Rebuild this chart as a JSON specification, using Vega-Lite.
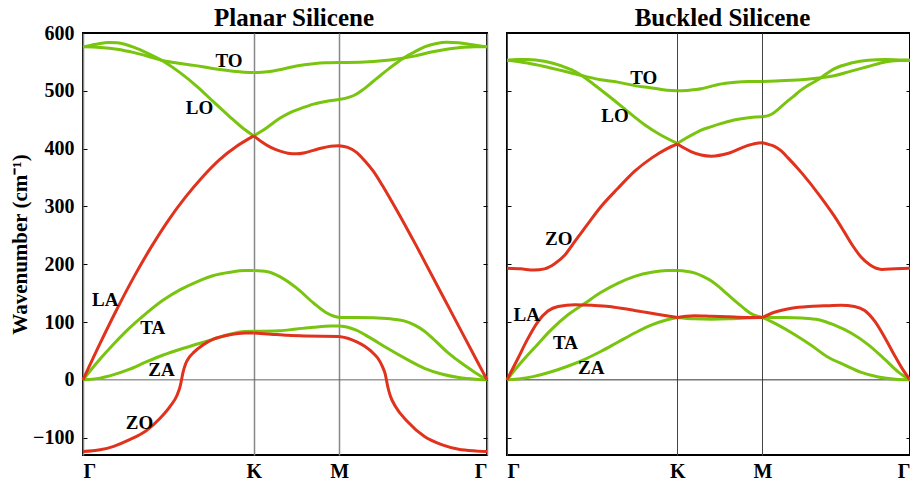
{
"$schema": "https://vega.github.io/schema/vega-lite/v6.json",
"background": "white",
"padding": {"left": 8, "top": 4, "right": 0, "bottom": 0},
"spacing": 6,
"config": {
  "view": {"stroke": "black", "strokeWidth": 2},
  "font": "Liberation Serif",
  "title": {"font": "Liberation Serif", "fontSize": 25, "fontWeight": "bold", "color": "black", "baseline": "alphabetic"},
  "axis": {"labelFont": "Liberation Serif", "labelFontWeight": "bold", "labelColor": "black", "titleFont": "Liberation Serif", "titleFontWeight": "bold", "titleColor": "black"}
},
"datasets": {
"planar": [
{"b":"TO","s":"GK","x":0,"v":576},{"b":"TO","s":"GK","x":0.1,"v":575},{"b":"TO","s":"GK","x":0.2,"v":572},{"b":"TO","s":"GK","x":0.3,"v":566},{"b":"TO","s":"GK","x":0.4,"v":558},{"b":"TO","s":"GK","x":0.47,"v":552},{"b":"TO","s":"GK","x":0.55,"v":548},{"b":"TO","s":"GK","x":0.65,"v":544},{"b":"TO","s":"GK","x":0.75,"v":539},{"b":"TO","s":"GK","x":0.85,"v":535},{"b":"TO","s":"GK","x":0.93,"v":532.5},{"b":"TO","s":"GK","x":1,"v":531.5},
{"b":"TO","s":"KM","x":1,"v":531.5},{"b":"TO","s":"KM","x":1.08,"v":533},{"b":"TO","s":"KM","x":1.16,"v":537},{"b":"TO","s":"KM","x":1.25,"v":543},{"b":"TO","s":"KM","x":1.35,"v":547},{"b":"TO","s":"KM","x":1.42,"v":548.5},{"b":"TO","s":"KM","x":1.5,"v":549},
{"b":"TO","s":"MG","x":1.5,"v":549},{"b":"TO","s":"MG","x":1.65,"v":550},{"b":"TO","s":"MG","x":1.75,"v":552},{"b":"TO","s":"MG","x":1.84,"v":555},{"b":"TO","s":"MG","x":1.94,"v":560},{"b":"TO","s":"MG","x":2.04,"v":567},{"b":"TO","s":"MG","x":2.13,"v":572},{"b":"TO","s":"MG","x":2.23,"v":575.5},{"b":"TO","s":"MG","x":2.3,"v":576},{"b":"TO","s":"MG","x":2.366,"v":576},
{"b":"LO","s":"GK","x":0,"v":576},{"b":"LO","s":"GK","x":0.05,"v":579},{"b":"LO","s":"GK","x":0.1,"v":582},{"b":"LO","s":"GK","x":0.15,"v":583.5},{"b":"LO","s":"GK","x":0.2,"v":583},{"b":"LO","s":"GK","x":0.25,"v":580},{"b":"LO","s":"GK","x":0.3,"v":575},{"b":"LO","s":"GK","x":0.37,"v":566},{"b":"LO","s":"GK","x":0.47,"v":551},{"b":"LO","s":"GK","x":0.57,"v":531},{"b":"LO","s":"GK","x":0.67,"v":507},{"b":"LO","s":"GK","x":0.76,"v":482},{"b":"LO","s":"GK","x":0.86,"v":455},{"b":"LO","s":"GK","x":0.93,"v":437},{"b":"LO","s":"GK","x":1,"v":422},
{"b":"LO","s":"KM","x":1,"v":422},{"b":"LO","s":"KM","x":1.04,"v":429},{"b":"LO","s":"KM","x":1.08,"v":437},{"b":"LO","s":"KM","x":1.15,"v":452},{"b":"LO","s":"KM","x":1.21,"v":462},{"b":"LO","s":"KM","x":1.28,"v":470},{"b":"LO","s":"KM","x":1.35,"v":477},{"b":"LO","s":"KM","x":1.43,"v":482},{"b":"LO","s":"KM","x":1.5,"v":485},
{"b":"LO","s":"MG","x":1.5,"v":485},{"b":"LO","s":"MG","x":1.56,"v":489},{"b":"LO","s":"MG","x":1.6,"v":494},{"b":"LO","s":"MG","x":1.64,"v":502},{"b":"LO","s":"MG","x":1.69,"v":514},{"b":"LO","s":"MG","x":1.74,"v":526},{"b":"LO","s":"MG","x":1.79,"v":538},{"b":"LO","s":"MG","x":1.84,"v":549},{"b":"LO","s":"MG","x":1.89,"v":559},{"b":"LO","s":"MG","x":1.94,"v":567},{"b":"LO","s":"MG","x":2,"v":576},{"b":"LO","s":"MG","x":2.07,"v":582},{"b":"LO","s":"MG","x":2.13,"v":584},{"b":"LO","s":"MG","x":2.2,"v":583},{"b":"LO","s":"MG","x":2.28,"v":579.5},{"b":"LO","s":"MG","x":2.366,"v":576},
{"b":"TA","s":"GK","x":0,"v":0},{"b":"TA","s":"GK","x":0.1,"v":36},{"b":"TA","s":"GK","x":0.18,"v":62},{"b":"TA","s":"GK","x":0.27,"v":89},{"b":"TA","s":"GK","x":0.37,"v":115},{"b":"TA","s":"GK","x":0.47,"v":138},{"b":"TA","s":"GK","x":0.57,"v":156},{"b":"TA","s":"GK","x":0.67,"v":170},{"b":"TA","s":"GK","x":0.76,"v":180},{"b":"TA","s":"GK","x":0.86,"v":186},{"b":"TA","s":"GK","x":0.95,"v":189},{"b":"TA","s":"GK","x":1,"v":189},
{"b":"TA","s":"KM","x":1,"v":189},{"b":"TA","s":"KM","x":1.08,"v":187},{"b":"TA","s":"KM","x":1.15,"v":179},{"b":"TA","s":"KM","x":1.25,"v":159},{"b":"TA","s":"KM","x":1.35,"v":133},{"b":"TA","s":"KM","x":1.42,"v":117},{"b":"TA","s":"KM","x":1.47,"v":110},{"b":"TA","s":"KM","x":1.5,"v":108},
{"b":"TA","s":"MG","x":1.5,"v":108},{"b":"TA","s":"MG","x":1.6,"v":108},{"b":"TA","s":"MG","x":1.7,"v":107.5},{"b":"TA","s":"MG","x":1.8,"v":105.5},{"b":"TA","s":"MG","x":1.88,"v":102},{"b":"TA","s":"MG","x":1.94,"v":95},{"b":"TA","s":"MG","x":2,"v":84},{"b":"TA","s":"MG","x":2.04,"v":74},{"b":"TA","s":"MG","x":2.13,"v":49},{"b":"TA","s":"MG","x":2.23,"v":26},{"b":"TA","s":"MG","x":2.3,"v":12},{"b":"TA","s":"MG","x":2.366,"v":0},
{"b":"ZA","s":"GK","x":0,"v":0},{"b":"ZA","s":"GK","x":0.1,"v":3},{"b":"ZA","s":"GK","x":0.18,"v":9},{"b":"ZA","s":"GK","x":0.27,"v":18},{"b":"ZA","s":"GK","x":0.37,"v":31},{"b":"ZA","s":"GK","x":0.47,"v":43},{"b":"ZA","s":"GK","x":0.57,"v":53},{"b":"ZA","s":"GK","x":0.67,"v":62},{"b":"ZA","s":"GK","x":0.76,"v":70},{"b":"ZA","s":"GK","x":0.86,"v":79},{"b":"ZA","s":"GK","x":0.95,"v":83.5},{"b":"ZA","s":"GK","x":1,"v":84},
{"b":"ZA","s":"KM","x":1,"v":84},{"b":"ZA","s":"KM","x":1.15,"v":85},{"b":"ZA","s":"KM","x":1.25,"v":88},{"b":"ZA","s":"KM","x":1.35,"v":91},{"b":"ZA","s":"KM","x":1.45,"v":93},{"b":"ZA","s":"KM","x":1.5,"v":93},
{"b":"ZA","s":"MG","x":1.5,"v":93},{"b":"ZA","s":"MG","x":1.55,"v":91},{"b":"ZA","s":"MG","x":1.6,"v":86},{"b":"ZA","s":"MG","x":1.68,"v":73},{"b":"ZA","s":"MG","x":1.78,"v":55},{"b":"ZA","s":"MG","x":1.9,"v":35},{"b":"ZA","s":"MG","x":2,"v":20},{"b":"ZA","s":"MG","x":2.1,"v":10},{"b":"ZA","s":"MG","x":2.2,"v":4},{"b":"ZA","s":"MG","x":2.3,"v":1},{"b":"ZA","s":"MG","x":2.366,"v":0},
{"b":"LA","s":"GK","x":0,"v":0},{"b":"LA","s":"GK","x":0.1,"v":63},{"b":"LA","s":"GK","x":0.2,"v":123},{"b":"LA","s":"GK","x":0.3,"v":179},{"b":"LA","s":"GK","x":0.4,"v":230},{"b":"LA","s":"GK","x":0.5,"v":276},{"b":"LA","s":"GK","x":0.6,"v":316},{"b":"LA","s":"GK","x":0.7,"v":351},{"b":"LA","s":"GK","x":0.8,"v":381},{"b":"LA","s":"GK","x":0.9,"v":404},{"b":"LA","s":"GK","x":1,"v":422},
{"b":"LA","s":"KM","x":1,"v":422},{"b":"LA","s":"KM","x":1.05,"v":411},{"b":"LA","s":"KM","x":1.1,"v":402},{"b":"LA","s":"KM","x":1.15,"v":396},{"b":"LA","s":"KM","x":1.2,"v":392},{"b":"LA","s":"KM","x":1.25,"v":391},{"b":"LA","s":"KM","x":1.3,"v":393},{"b":"LA","s":"KM","x":1.35,"v":397},{"b":"LA","s":"KM","x":1.4,"v":401},{"b":"LA","s":"KM","x":1.45,"v":404},{"b":"LA","s":"KM","x":1.5,"v":405},
{"b":"LA","s":"MG","x":1.5,"v":405},{"b":"LA","s":"MG","x":1.55,"v":402},{"b":"LA","s":"MG","x":1.6,"v":394},{"b":"LA","s":"MG","x":1.65,"v":379},{"b":"LA","s":"MG","x":1.7,"v":361},{"b":"LA","s":"MG","x":1.75,"v":338},{"b":"LA","s":"MG","x":1.8,"v":313},{"b":"LA","s":"MG","x":1.85,"v":287},{"b":"LA","s":"MG","x":1.9,"v":260},{"b":"LA","s":"MG","x":1.95,"v":233},{"b":"LA","s":"MG","x":2,"v":205},{"b":"LA","s":"MG","x":2.1,"v":149},{"b":"LA","s":"MG","x":2.2,"v":93},{"b":"LA","s":"MG","x":2.3,"v":37},{"b":"LA","s":"MG","x":2.366,"v":0},
{"b":"ZO","s":"GK","x":0,"v":-124},{"b":"ZO","s":"GK","x":0.1,"v":-121},{"b":"ZO","s":"GK","x":0.18,"v":-115},{"b":"ZO","s":"GK","x":0.27,"v":-104},{"b":"ZO","s":"GK","x":0.37,"v":-88},{"b":"ZO","s":"GK","x":0.45,"v":-67},{"b":"ZO","s":"GK","x":0.51,"v":-46},{"b":"ZO","s":"GK","x":0.55,"v":-27},{"b":"ZO","s":"GK","x":0.57,"v":-10},{"b":"ZO","s":"GK","x":0.577,"v":0},{"b":"ZO","s":"GK","x":0.585,"v":12},{"b":"ZO","s":"GK","x":0.6,"v":27},{"b":"ZO","s":"GK","x":0.625,"v":40},{"b":"ZO","s":"GK","x":0.65,"v":48},{"b":"ZO","s":"GK","x":0.7,"v":60},{"b":"ZO","s":"GK","x":0.76,"v":70},{"b":"ZO","s":"GK","x":0.86,"v":78},{"b":"ZO","s":"GK","x":0.95,"v":81},{"b":"ZO","s":"GK","x":1,"v":81},
{"b":"ZO","s":"KM","x":1,"v":81},{"b":"ZO","s":"KM","x":1.1,"v":79},{"b":"ZO","s":"KM","x":1.2,"v":77},{"b":"ZO","s":"KM","x":1.3,"v":76},{"b":"ZO","s":"KM","x":1.4,"v":75.5},{"b":"ZO","s":"KM","x":1.5,"v":75},
{"b":"ZO","s":"MG","x":1.5,"v":75},{"b":"ZO","s":"MG","x":1.55,"v":72},{"b":"ZO","s":"MG","x":1.6,"v":66},{"b":"ZO","s":"MG","x":1.65,"v":58},{"b":"ZO","s":"MG","x":1.7,"v":46},{"b":"ZO","s":"MG","x":1.73,"v":36},{"b":"ZO","s":"MG","x":1.755,"v":22},{"b":"ZO","s":"MG","x":1.77,"v":10},{"b":"ZO","s":"MG","x":1.777,"v":0},{"b":"ZO","s":"MG","x":1.785,"v":-12},{"b":"ZO","s":"MG","x":1.8,"v":-28},{"b":"ZO","s":"MG","x":1.83,"v":-46},{"b":"ZO","s":"MG","x":1.9,"v":-72},{"b":"ZO","s":"MG","x":2,"v":-98},{"b":"ZO","s":"MG","x":2.1,"v":-112},{"b":"ZO","s":"MG","x":2.2,"v":-120},{"b":"ZO","s":"MG","x":2.3,"v":-123},{"b":"ZO","s":"MG","x":2.366,"v":-124}
],
"buckled": [
{"b":"TO","s":"GK","x":0,"v":553},{"b":"TO","s":"GK","x":0.12,"v":548},{"b":"TO","s":"GK","x":0.22,"v":542},{"b":"TO","s":"GK","x":0.32,"v":535},{"b":"TO","s":"GK","x":0.46,"v":525},{"b":"TO","s":"GK","x":0.55,"v":519},{"b":"TO","s":"GK","x":0.65,"v":515},{"b":"TO","s":"GK","x":0.75,"v":509},{"b":"TO","s":"GK","x":0.85,"v":505},{"b":"TO","s":"GK","x":0.94,"v":501},{"b":"TO","s":"GK","x":1,"v":500},
{"b":"TO","s":"KM","x":1,"v":500},{"b":"TO","s":"KM","x":1.07,"v":501},{"b":"TO","s":"KM","x":1.14,"v":503.5},{"b":"TO","s":"KM","x":1.2,"v":508},{"b":"TO","s":"KM","x":1.24,"v":511},{"b":"TO","s":"KM","x":1.34,"v":515},{"b":"TO","s":"KM","x":1.42,"v":516},{"b":"TO","s":"KM","x":1.5,"v":516},
{"b":"TO","s":"MG","x":1.5,"v":516},{"b":"TO","s":"MG","x":1.63,"v":518},{"b":"TO","s":"MG","x":1.73,"v":519},{"b":"TO","s":"MG","x":1.83,"v":522},{"b":"TO","s":"MG","x":1.92,"v":526},{"b":"TO","s":"MG","x":2.02,"v":534},{"b":"TO","s":"MG","x":2.12,"v":542},{"b":"TO","s":"MG","x":2.22,"v":550},{"b":"TO","s":"MG","x":2.3,"v":552.5},{"b":"TO","s":"MG","x":2.366,"v":553},
{"b":"LO","s":"GK","x":0,"v":553},{"b":"LO","s":"GK","x":0.06,"v":554},{"b":"LO","s":"GK","x":0.12,"v":554},{"b":"LO","s":"GK","x":0.22,"v":551},{"b":"LO","s":"GK","x":0.32,"v":543},{"b":"LO","s":"GK","x":0.42,"v":530},{"b":"LO","s":"GK","x":0.51,"v":511},{"b":"LO","s":"GK","x":0.61,"v":488},{"b":"LO","s":"GK","x":0.71,"v":464},{"b":"LO","s":"GK","x":0.81,"v":441},{"b":"LO","s":"GK","x":0.9,"v":424},{"b":"LO","s":"GK","x":1,"v":409},
{"b":"LO","s":"KM","x":1,"v":409},{"b":"LO","s":"KM","x":1.05,"v":418},{"b":"LO","s":"KM","x":1.1,"v":426},{"b":"LO","s":"KM","x":1.14,"v":432},{"b":"LO","s":"KM","x":1.2,"v":438},{"b":"LO","s":"KM","x":1.24,"v":442},{"b":"LO","s":"KM","x":1.34,"v":450},{"b":"LO","s":"KM","x":1.43,"v":454},{"b":"LO","s":"KM","x":1.5,"v":455},
{"b":"LO","s":"MG","x":1.5,"v":455},{"b":"LO","s":"MG","x":1.55,"v":459},{"b":"LO","s":"MG","x":1.6,"v":470},{"b":"LO","s":"MG","x":1.63,"v":478},{"b":"LO","s":"MG","x":1.68,"v":490},{"b":"LO","s":"MG","x":1.73,"v":502},{"b":"LO","s":"MG","x":1.83,"v":520},{"b":"LO","s":"MG","x":1.92,"v":538},{"b":"LO","s":"MG","x":2.02,"v":548},{"b":"LO","s":"MG","x":2.12,"v":553},{"b":"LO","s":"MG","x":2.22,"v":554},{"b":"LO","s":"MG","x":2.3,"v":553.5},{"b":"LO","s":"MG","x":2.366,"v":553},
{"b":"TA","s":"GK","x":0,"v":0},{"b":"TA","s":"GK","x":0.08,"v":29},{"b":"TA","s":"GK","x":0.16,"v":55},{"b":"TA","s":"GK","x":0.26,"v":87},{"b":"TA","s":"GK","x":0.36,"v":113},{"b":"TA","s":"GK","x":0.46,"v":133},{"b":"TA","s":"GK","x":0.55,"v":151},{"b":"TA","s":"GK","x":0.65,"v":167},{"b":"TA","s":"GK","x":0.75,"v":179},{"b":"TA","s":"GK","x":0.85,"v":186},{"b":"TA","s":"GK","x":0.94,"v":189},{"b":"TA","s":"GK","x":1,"v":189},
{"b":"TA","s":"KM","x":1,"v":189},{"b":"TA","s":"KM","x":1.05,"v":188},{"b":"TA","s":"KM","x":1.1,"v":185},{"b":"TA","s":"KM","x":1.15,"v":179},{"b":"TA","s":"KM","x":1.2,"v":171},{"b":"TA","s":"KM","x":1.24,"v":162},{"b":"TA","s":"KM","x":1.29,"v":149},{"b":"TA","s":"KM","x":1.34,"v":136},{"b":"TA","s":"KM","x":1.39,"v":124},{"b":"TA","s":"KM","x":1.43,"v":115},{"b":"TA","s":"KM","x":1.47,"v":110},{"b":"TA","s":"KM","x":1.5,"v":108},
{"b":"TA","s":"MG","x":1.5,"v":108},{"b":"TA","s":"MG","x":1.63,"v":108},{"b":"TA","s":"MG","x":1.73,"v":107},{"b":"TA","s":"MG","x":1.83,"v":104},{"b":"TA","s":"MG","x":1.92,"v":95},{"b":"TA","s":"MG","x":2.02,"v":81},{"b":"TA","s":"MG","x":2.12,"v":61},{"b":"TA","s":"MG","x":2.22,"v":35},{"b":"TA","s":"MG","x":2.3,"v":13},{"b":"TA","s":"MG","x":2.366,"v":0},
{"b":"ZA","s":"GK","x":0,"v":0},{"b":"ZA","s":"GK","x":0.08,"v":2},{"b":"ZA","s":"GK","x":0.16,"v":6},{"b":"ZA","s":"GK","x":0.26,"v":14},{"b":"ZA","s":"GK","x":0.36,"v":24},{"b":"ZA","s":"GK","x":0.46,"v":36},{"b":"ZA","s":"GK","x":0.55,"v":49},{"b":"ZA","s":"GK","x":0.65,"v":65},{"b":"ZA","s":"GK","x":0.75,"v":81},{"b":"ZA","s":"GK","x":0.85,"v":95},{"b":"ZA","s":"GK","x":0.94,"v":104},{"b":"ZA","s":"GK","x":1,"v":108},
{"b":"ZA","s":"KM","x":1,"v":108},{"b":"ZA","s":"KM","x":1.1,"v":105.5},{"b":"ZA","s":"KM","x":1.2,"v":105},{"b":"ZA","s":"KM","x":1.3,"v":105.5},{"b":"ZA","s":"KM","x":1.4,"v":107},{"b":"ZA","s":"KM","x":1.5,"v":108},
{"b":"ZA","s":"MG","x":1.5,"v":108},{"b":"ZA","s":"MG","x":1.59,"v":95},{"b":"ZA","s":"MG","x":1.69,"v":78},{"b":"ZA","s":"MG","x":1.79,"v":59},{"b":"ZA","s":"MG","x":1.88,"v":40},{"b":"ZA","s":"MG","x":1.98,"v":26},{"b":"ZA","s":"MG","x":2.08,"v":13},{"b":"ZA","s":"MG","x":2.18,"v":5},{"b":"ZA","s":"MG","x":2.28,"v":1},{"b":"ZA","s":"MG","x":2.366,"v":0},
{"b":"ZO","s":"GK","x":0,"v":193},{"b":"ZO","s":"GK","x":0.08,"v":192},{"b":"ZO","s":"GK","x":0.16,"v":190},{"b":"ZO","s":"GK","x":0.22,"v":192},{"b":"ZO","s":"GK","x":0.28,"v":201},{"b":"ZO","s":"GK","x":0.34,"v":216},{"b":"ZO","s":"GK","x":0.39,"v":236},{"b":"ZO","s":"GK","x":0.42,"v":248},{"b":"ZO","s":"GK","x":0.48,"v":272},{"b":"ZO","s":"GK","x":0.55,"v":299},{"b":"ZO","s":"GK","x":0.65,"v":331},{"b":"ZO","s":"GK","x":0.75,"v":361},{"b":"ZO","s":"GK","x":0.85,"v":384},{"b":"ZO","s":"GK","x":0.94,"v":400},{"b":"ZO","s":"GK","x":1,"v":408},
{"b":"ZO","s":"KM","x":1,"v":408},{"b":"ZO","s":"KM","x":1.04,"v":401},{"b":"ZO","s":"KM","x":1.08,"v":395},{"b":"ZO","s":"KM","x":1.14,"v":389},{"b":"ZO","s":"KM","x":1.2,"v":387},{"b":"ZO","s":"KM","x":1.3,"v":392},{"b":"ZO","s":"KM","x":1.4,"v":404},{"b":"ZO","s":"KM","x":1.46,"v":409},{"b":"ZO","s":"KM","x":1.5,"v":410},
{"b":"ZO","s":"MG","x":1.5,"v":410},{"b":"ZO","s":"MG","x":1.54,"v":407},{"b":"ZO","s":"MG","x":1.57,"v":404},{"b":"ZO","s":"MG","x":1.61,"v":396},{"b":"ZO","s":"MG","x":1.65,"v":384},{"b":"ZO","s":"MG","x":1.73,"v":358},{"b":"ZO","s":"MG","x":1.83,"v":321},{"b":"ZO","s":"MG","x":1.92,"v":284},{"b":"ZO","s":"MG","x":1.98,"v":256},{"b":"ZO","s":"MG","x":2.03,"v":232},{"b":"ZO","s":"MG","x":2.08,"v":212},{"b":"ZO","s":"MG","x":2.13,"v":199},{"b":"ZO","s":"MG","x":2.2,"v":191},{"b":"ZO","s":"MG","x":2.28,"v":192},{"b":"ZO","s":"MG","x":2.366,"v":193},
{"b":"LA","s":"GK","x":0,"v":0},{"b":"LA","s":"GK","x":0.064,"v":37},{"b":"LA","s":"GK","x":0.12,"v":70},{"b":"LA","s":"GK","x":0.18,"v":100},{"b":"LA","s":"GK","x":0.24,"v":119},{"b":"LA","s":"GK","x":0.3,"v":127},{"b":"LA","s":"GK","x":0.4,"v":130},{"b":"LA","s":"GK","x":0.5,"v":129},{"b":"LA","s":"GK","x":0.6,"v":127},{"b":"LA","s":"GK","x":0.69,"v":123},{"b":"LA","s":"GK","x":0.79,"v":118},{"b":"LA","s":"GK","x":0.89,"v":113},{"b":"LA","s":"GK","x":1,"v":108},
{"b":"LA","s":"KM","x":1,"v":108},{"b":"LA","s":"KM","x":1.05,"v":110},{"b":"LA","s":"KM","x":1.1,"v":111},{"b":"LA","s":"KM","x":1.2,"v":110},{"b":"LA","s":"KM","x":1.3,"v":109},{"b":"LA","s":"KM","x":1.4,"v":108},{"b":"LA","s":"KM","x":1.5,"v":108},
{"b":"LA","s":"MG","x":1.5,"v":108},{"b":"LA","s":"MG","x":1.57,"v":117},{"b":"LA","s":"MG","x":1.67,"v":124},{"b":"LA","s":"MG","x":1.77,"v":127},{"b":"LA","s":"MG","x":1.86,"v":128},{"b":"LA","s":"MG","x":1.96,"v":129},{"b":"LA","s":"MG","x":2.04,"v":127},{"b":"LA","s":"MG","x":2.1,"v":120},{"b":"LA","s":"MG","x":2.16,"v":101},{"b":"LA","s":"MG","x":2.22,"v":72},{"b":"LA","s":"MG","x":2.28,"v":40},{"b":"LA","s":"MG","x":2.33,"v":15},{"b":"LA","s":"MG","x":2.366,"v":0}
],
"planarLabels": [
{"t":"TO","x":0.855,"v":551},{"t":"LO","x":0.682,"v":470},{"t":"LA","x":0.13,"v":138},{"t":"TA","x":0.408,"v":89.5},{"t":"ZA","x":0.46,"v":17.3},{"t":"ZO","x":0.331,"v":-75}
],
"buckledLabels": [
{"t":"TO","x":0.803,"v":522},{"t":"LO","x":0.634,"v":455.7},{"t":"ZO","x":0.304,"v":244},{"t":"LA","x":0.116,"v":112.5},{"t":"TA","x":0.343,"v":63.5},{"t":"ZA","x":0.495,"v":20.2}
]
},
"hconcat": [
{
 "width": 404, "height": 422,
 "title": {"text": "Planar Silicene", "dx": 9, "offset": -8},
 "layer": [
  {
   "data": {"values": [{"v": 0}]},
   "mark": {"type": "rule", "color": "#666666", "strokeWidth": 1},
   "encoding": {"y": {"field": "v", "type": "quantitative", "scale": {"domain": [-130, 600], "nice": false}, "axis": {"orient": "right", "values": [-100,0,100,200,300,400,500,600], "labels": false, "tickSize": -4, "tickColor": "black", "domain": false, "grid": false, "title": null}}}
  },
  {
   "data": {"name": "planar"},
   "transform": [{"filter": {"field": "b", "oneOf": ["TO","LO","TA","ZA"]}}],
   "mark": {"type": "line", "interpolate": "monotone", "strokeWidth": 3, "color": "#78c40f"},
   "encoding": {
    "x": {"field": "x", "type": "quantitative", "scale": {"domain": [0, 2.366], "nice": false, "zero": false}, "axis": {"values": [0,1,1.5,2.366], "labelExpr": "datum.value < 0.5 ? 'Γ' : datum.value < 1.2 ? 'K' : datum.value < 2 ? 'M' : 'Γ'", "labelFontSize": 20, "labelFlush": true, "labelPadding": 6, "ticks": false, "domain": false, "grid": true, "gridColor": "#888888", "gridWidth": 1.5, "title": null}},
    "y": {"field": "v", "type": "quantitative", "scale": {"domain": [-130, 600], "nice": false}, "axis": {"orient": "left", "values": [-100,0,100,200,300,400,500,600], "tickSize": -4, "tickColor": "black", "labelFontSize": 20, "labelPadding": 13, "domain": false, "grid": false, "title": "Wavenumber (cm⁻¹)", "titleFontSize": 21, "titlePadding": 2}},
    "detail": [{"field": "b"}, {"field": "s"}]
   }
  },
  {
   "data": {"name": "planar"},
   "transform": [{"filter": {"field": "b", "oneOf": ["LA","ZO"]}}],
   "mark": {"type": "line", "interpolate": "monotone", "strokeWidth": 3, "color": "#e0321c"},
   "encoding": {
    "x": {"field": "x", "type": "quantitative", "scale": {"domain": [0, 2.366], "nice": false, "zero": false}},
    "y": {"field": "v", "type": "quantitative", "scale": {"domain": [-130, 600], "nice": false}, "axis": null},
    "detail": [{"field": "b"}, {"field": "s"}]
   }
  },
  {
   "data": {"name": "planarLabels"},
   "mark": {"type": "text", "font": "Liberation Serif", "fontWeight": "bold", "fontSize": 19, "color": "black", "baseline": "middle", "align": "center"},
   "encoding": {
    "x": {"field": "x", "type": "quantitative", "scale": {"domain": [0, 2.366], "nice": false, "zero": false}},
    "y": {"field": "v", "type": "quantitative", "scale": {"domain": [-130, 600], "nice": false}, "axis": null},
    "text": {"field": "t"}
   }
  }
 ],
 "resolve": {"axis": {"y": "independent"}}
},
{
 "width": 403, "height": 422,
 "title": {"text": "Buckled Silicene", "dx": 14, "offset": 2},
 "layer": [
  {
   "data": {"values": [{"v": 0}]},
   "mark": {"type": "rule", "color": "#333333", "strokeWidth": 1},
   "encoding": {"y": {"field": "v", "type": "quantitative", "scale": {"domain": [-130, 600], "nice": false}, "axis": {"orient": "right", "values": [-100,0,100,200,300,400,500,600], "labels": false, "tickSize": -4, "tickColor": "black", "domain": false, "grid": false, "title": null}}}
  },
  {
   "data": {"name": "buckled"},
   "transform": [{"filter": {"field": "b", "oneOf": ["TO","LO","TA","ZA"]}}],
   "mark": {"type": "line", "interpolate": "monotone", "strokeWidth": 3, "color": "#78c40f"},
   "encoding": {
    "x": {"field": "x", "type": "quantitative", "scale": {"domain": [0, 2.366], "nice": false, "zero": false}, "axis": {"values": [0,1,1.5,2.366], "labelExpr": "datum.value < 0.5 ? 'Γ' : datum.value < 1.2 ? 'K' : datum.value < 2 ? 'M' : 'Γ'", "labelFontSize": 20, "labelFlush": true, "labelPadding": 6, "ticks": false, "domain": false, "grid": true, "gridColor": "#444444", "gridWidth": 1, "title": null}},
    "y": {"field": "v", "type": "quantitative", "scale": {"domain": [-130, 600], "nice": false}, "axis": {"orient": "left", "values": [-100,0,100,200,300,400,500,600], "tickSize": -4, "tickColor": "black", "labels": false, "domain": false, "grid": false, "title": null}},
    "detail": [{"field": "b"}, {"field": "s"}]
   }
  },
  {
   "data": {"name": "buckled"},
   "transform": [{"filter": {"field": "b", "oneOf": ["LA","ZO"]}}],
   "mark": {"type": "line", "interpolate": "monotone", "strokeWidth": 3, "color": "#e0321c"},
   "encoding": {
    "x": {"field": "x", "type": "quantitative", "scale": {"domain": [0, 2.366], "nice": false, "zero": false}},
    "y": {"field": "v", "type": "quantitative", "scale": {"domain": [-130, 600], "nice": false}, "axis": null},
    "detail": [{"field": "b"}, {"field": "s"}]
   }
  },
  {
   "data": {"name": "buckledLabels"},
   "mark": {"type": "text", "font": "Liberation Serif", "fontWeight": "bold", "fontSize": 19, "color": "black", "baseline": "middle", "align": "center"},
   "encoding": {
    "x": {"field": "x", "type": "quantitative", "scale": {"domain": [0, 2.366], "nice": false, "zero": false}},
    "y": {"field": "v", "type": "quantitative", "scale": {"domain": [-130, 600], "nice": false}, "axis": null},
    "text": {"field": "t"}
   }
  }
 ],
 "resolve": {"axis": {"y": "independent"}}
}
]
}
